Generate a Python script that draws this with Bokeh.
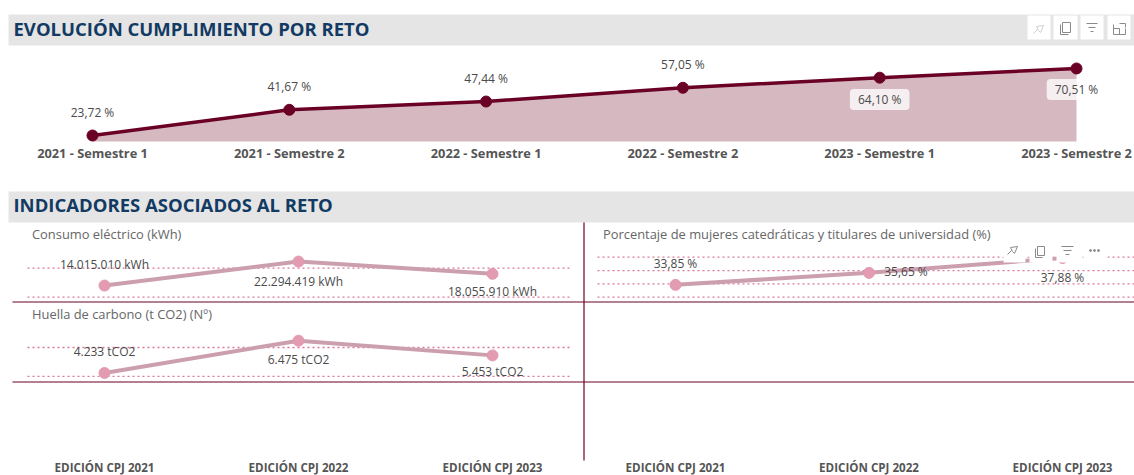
from bokeh.plotting import figure
from bokeh.models import Range1d
from bokeh.core.properties import value
from bokeh.embed import file_html
from bokeh.resources import INLINE

W, H = 1134, 475

# ---------- data ----------
sem_labels = ["2021 - Semestre 1", "2021 - Semestre 2", "2022 - Semestre 1",
              "2022 - Semestre 2", "2023 - Semestre 1", "2023 - Semestre 2"]
sem_values = [23.72, 41.67, 47.44, 57.05, 64.10, 70.51]
sem_texts = ["23,72 %", "41,67 %", "47,44 %", "57,05 %", "64,10 %", "70,51 %"]
sem_baseline = 19.5

ed_labels = ["EDICIÓN CPJ 2021", "EDICIÓN CPJ 2022", "EDICIÓN CPJ 2023"]
kwh_values = [14015010, 22294419, 18055910]
kwh_texts = ["14.015.010 kWh", "22.294.419 kWh", "18.055.910 kWh"]
kwh_grid = [10000000, 20000000]
co2_values = [4233, 6475, 5453]
co2_texts = ["4.233 tCO2", "6.475 tCO2", "5.453 tCO2"]
co2_grid = [4000, 6000]
muj_values = [33.85, 35.65, 37.88]
muj_texts = ["33,85 %", "35,65 %", "37,88 %"]
muj_grid = [32, 34, 36, 38]

MAROON = "#6b0026"
AREA = "#d5b8c0"
PINK_LINE = "#cc9fae"
PINK_DOT = "#e39bb1"
GRID = "#d9789a"
NAVY = "#123a63"
GREY = "#4a4a4a"
FONT = value("Open Sans")

p = figure(width=W, height=H, x_range=Range1d(0, W), y_range=Range1d(H, 0),
           toolbar_location=None, output_backend="svg", min_border=0,
           outline_line_color=None, margin=0)
p.axis.visible = False
p.grid.visible = False
p.background_fill_color = "white"


def rng(v1, px1, v2, px2, full):
    """Horizontal range: value v1 on pixel px1, v2 on px2, of a canvas `full` pixels wide."""
    k = (v2 - v1) / (px2 - px1)
    return Range1d(v1 + (0 - px1) * k, v1 + (full - px1) * k)


def yrng(v1, px1, v2, px2, full):
    """Vertical range: start is at the canvas bottom, end at its top."""
    k = (v2 - v1) / (px2 - px1)
    return Range1d(v1 + (full - px1) * k, v1 + (0 - px1) * k)


p.extra_x_ranges = {
    "sem": rng(0, 92, 5, 1076, W),
    "edL": rng(0, 104, 2, 492, W),
    "edR": rng(0, 675, 2, 1062, W),
}
p.extra_y_ranges = {
    "sem": yrng(23.72, 135, 70.51, 68, H),
    "kwh": yrng(10000000, 296.7, 20000000, 267.7, H),
    "co2": yrng(4000, 375.8, 6000, 347, H),
    "muj": yrng(32, 296.7, 38, 256.7, H),
}


def label(x, y, t, size="12px", color=GREY, style="normal", align="center", xr="default", xo=0, **kw):
    p.text(x=[x], y=[y - 1], text=[t], text_font=FONT, text_font_size=size, text_color=color,
           text_font_style=style, text_align=align, text_baseline="middle",
           x_range_name=xr, x_offset=xo, **kw)


# ---------- header bands ----------
p.quad(left=[8, 8], right=[W, W], top=[14, 191], bottom=[45, 222], fill_color="#e5e5e5", line_color=None)
label(13, 29, "EVOLUCIÓN CUMPLIMIENTO POR RETO", size="18.5px", color=NAVY, style="bold", align="left")
label(13, 205, "INDICADORES ASOCIADOS AL RETO", size="18.5px", color=NAVY, style="bold", align="left")

# ---------- top chart ----------
xs = list(range(len(sem_values)))
p.varea(x=xs, y1=[sem_baseline] * len(xs), y2=sem_values, fill_color=AREA,
        x_range_name="sem", y_range_name="sem")
p.line(x=xs, y=sem_values, line_color=MAROON, line_width=3.5, x_range_name="sem", y_range_name="sem")
p.scatter(x=xs, y=sem_values, size=11, fill_color=MAROON, line_color=MAROON,
          x_range_name="sem", y_range_name="sem")

for i, yy in zip(xs, [113, 87, 79, 65, 100, 90]):
    extra = {}
    if i >= 4:
        extra = dict(background_fill_color="white", background_fill_alpha=0.78,
                     padding=(8, 2), border_radius=4)
    label(i, yy, sem_texts[i], size="12px", color=GREY, xr="sem", **extra)
for i, t in enumerate(sem_labels):
    label(i, 153, t, size="12.8px", color="#555555", style="bold", xr="sem")

# ---------- small multiples ----------
for gv, yr, x0, x1 in [(kwh_grid, "kwh", 27, 572), (co2_grid, "co2", 27, 572), (muj_grid, "muj", 597, W)]:
    for g in gv:
        p.line(x=[x0, x1], y=[g, g], line_color=GRID, line_width=1.3, line_dash="2 3", y_range_name=yr)

for vals, xr, yr in [(kwh_values, "edL", "kwh"), (co2_values, "edL", "co2"), (muj_values, "edR", "muj")]:
    i3 = list(range(3))
    p.line(x=i3, y=vals, line_color=PINK_LINE, line_width=4, x_range_name=xr, y_range_name=yr)
    p.scatter(x=i3, y=vals, size=11, fill_color=PINK_DOT, line_color=PINK_DOT,
              x_range_name=xr, y_range_name=yr)

# small visual-header boxes hiding part of the third panel
p.quad(left=[1003, 1029, 1056, 1083], right=[1025, 1052, 1080, 1107],
       top=[243] * 4, bottom=[262] * 4, fill_color="white", line_color=None)
p.quad(left=[1000], right=[1107], top=[243], bottom=[256], fill_color="white", line_color=None)

for i, yy in enumerate([265, 282, 292]):
    label(i, yy, kwh_texts[i], xr="edL")
for i, yy in enumerate([352, 360, 372]):
    label(i, yy, co2_texts[i], xr="edL")
for i, yy, xo in [(0, 264, 0), (1, 272, 37), (2, 278, 0)]:
    label(i, yy, muj_texts[i], xr="edR", xo=xo)

label(31.5, 234, "Consumo eléctrico (kWh)", size="12.9px", color="#666666", align="left")
label(31.5, 314, "Huella de carbono (t CO2)  (Nº)", size="12.9px", color="#666666", align="left")
label(602.5, 234, "Porcentaje de mujeres catedráticas y titulares de universidad (%)",
      size="12.9px", color="#666666", align="left")

for i, t in enumerate(ed_labels):
    label(i, 468, t, size="11.6px", color="#555555", style="bold", xr="edL")
    label(i, 468, t, size="11.6px", color="#555555", style="bold", xr="edR")

# ---------- separators ----------
p.line(x=[12, W], y=[301.5, 301.5], line_color=MAROON, line_width=1.2)
p.line(x=[12, W], y=[381.5, 381.5], line_color=MAROON, line_width=1.2)
p.line(x=[583.5, 583.5], y=[222, 460], line_color=MAROON, line_width=1.2)

# ---------- top-right toolbar ----------
p.quad(left=[1027, 1053, 1080, 1107], right=[1050, 1077, 1103, 1130],
       top=[15] * 4, bottom=[39] * 4, fill_color="white", line_color=None)
ic = "#8a8a8a"
# pin
p.multi_line(xs=[[1033, 1037], [1036, 1043, 1040, 1038, 1036]], ys=[[33, 29], [26, 25, 32, 30, 26]],
             line_color="#d0d0d0", line_width=1)
# copy
p.multi_line(xs=[[1062, 1070, 1070, 1062, 1062], [1060, 1060, 1068]], ys=[[22, 22, 32, 32, 22], [24, 34, 34]],
             line_color=ic, line_width=1)
# filter
p.multi_line(xs=[[1086, 1097], [1088, 1095], [1090, 1093]], ys=[[23, 23], [27, 27], [31, 31]],
             line_color=ic, line_width=1)
# expand
p.multi_line(xs=[[1113, 1113, 1125, 1125], [1119, 1125, 1125], [1113, 1119, 1119]],
             ys=[[24, 34, 34, 28], [23, 23, 27], [28, 28, 34]],
             line_color=ic, line_width=1)
# lower visual header icons
p.multi_line(xs=[[1007, 1011], [1010, 1017, 1014, 1012, 1010],
                 [1037, 1044, 1044, 1037, 1037], [1035, 1035, 1042],
                 [1061, 1073], [1063, 1071], [1065, 1069]],
             ys=[[254, 250], [247, 246, 253, 251, 247],
                 [246, 246, 255, 255, 246], [248, 257, 257],
                 [246, 246], [250, 250], [254, 254]],
             line_color=ic, line_width=1)
p.scatter(x=[1090, 1094, 1098], y=[250, 250, 250], size=2, color=ic)

open("out.html", "w").write(file_html(p, INLINE))
